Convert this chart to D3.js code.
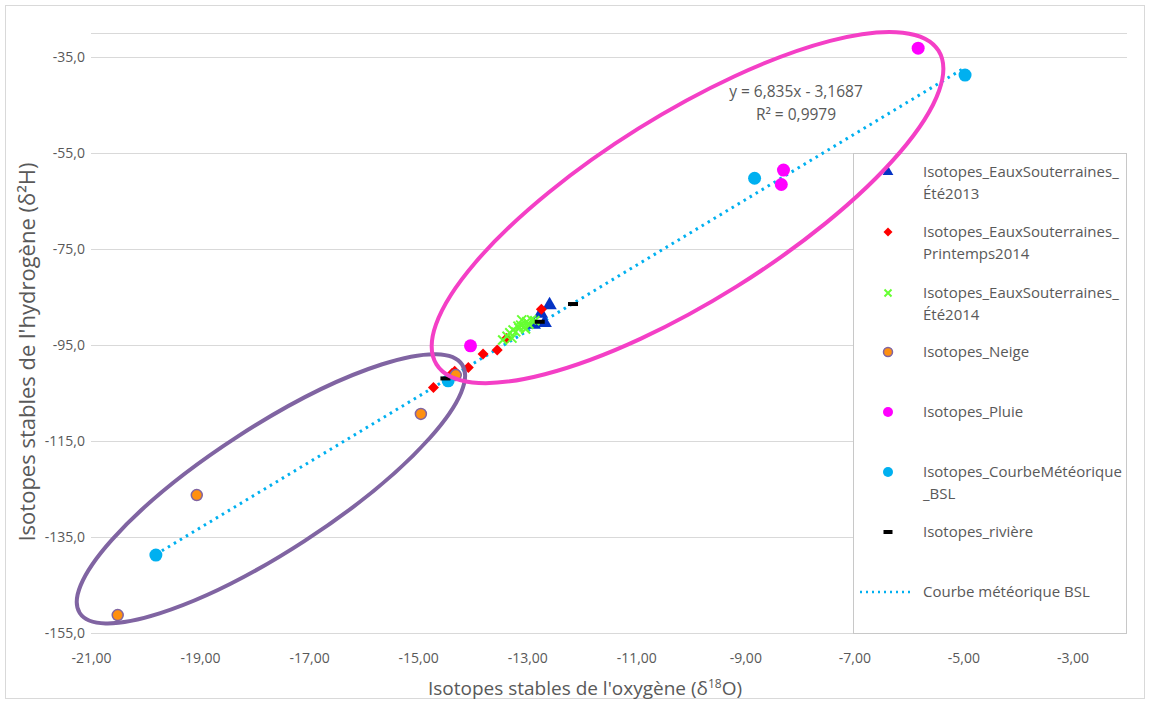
<!DOCTYPE html>
<html><head><meta charset="utf-8">
<script src="https://cdn.jsdelivr.net/npm/d3@7"></script>
<style>
body{margin:0;background:#fff}
text{font-family:"Open Sans",sans-serif;fill:#595959}
</style>
</head><body>
<svg id="chart" width="1151" height="705"></svg>
<script>
// ---------- data ----------
const xTicks = [-21, -19, -17, -15, -13, -11, -9, -7, -5, -3];
const yTicks = [-155, -135, -115, -95, -75, -55, -35];

const ete2013 = [[-12.59, -86.6], [-12.75, -88.4], [-12.68, -90.3], [-12.88, -90.7]];
const printemps2014 = [[-14.72, -103.8], [-14.38, -100.9], [-14.33, -100.4], [-14.08, -99.6],
  [-13.81, -96.8], [-13.55, -96.0], [-13.38, -93.6], [-12.74, -87.5]];
const ete2014 = [[-13.45, -93.9], [-13.37, -93.1], [-13.32, -92.4], [-13.26, -91.8], [-13.21, -92.2],
  [-13.15, -91.4], [-13.12, -90.8], [-13.06, -91.2], [-13.01, -90.1], [-12.97, -90.6], [-12.92, -89.7],
  [-13.28, -93.5], [-13.17, -91.0], [-13.03, -91.6], [-12.86, -89.9], [-13.10, -89.7]];
const neige = [[-20.51, -151.2], [-19.06, -126.2], [-14.95, -109.3], [-14.31, -101.2]];
const pluie = [[-5.83, -33.1], [-8.30, -58.5], [-8.34, -61.5], [-14.04, -95.1]];
const courbeBSL = [[-19.81, -138.7], [-14.45, -102.4], [-8.83, -60.2], [-4.97, -38.7]];
const riviere = [[-14.50, -101.9], [-12.77, -90.1], [-12.16, -86.4]];

const trendSlope = 6.835, trendIntercept = -3.1687, trendR2 = 0.9979;

const legendLabels = [
  ["Isotopes_EauxSouterraines_", "Été2013"],
  ["Isotopes_EauxSouterraines_", "Printemps2014"],
  ["Isotopes_EauxSouterraines_", "Été2014"],
  ["Isotopes_Neige"],
  ["Isotopes_Pluie"],
  ["Isotopes_CourbeMétéorique", "_BSL"],
  ["Isotopes_rivière"],
  ["Courbe météorique BSL"]
];

// annotation ellipses (centre in data units)
const ellipses = [
  {cx: -17.70, cy: -124.9, rx: 228, ry: 62, angle: -33, color: "#8064A2"},
  {cx: -10.06, cy: -66.3, rx: 296, ry: 93, angle: -32, color: "#F43FC6"}
];

// ---------- drawing ----------
const svg = d3.select("#chart");
const W = 1151, H = 705;
const x = d3.scaleLinear().domain([-21, -2]).range([91, 1127]);
const y = d3.scaleLinear().domain([-155, -30]).range([633.3, 33.3]);
const fmtX = v => d3.format(".2f")(v).replace(".", ",").replace("−", "-");
const fmtY = v => d3.format(".1f")(v).replace(".", ",").replace("−", "-");

// chart border
svg.append("rect").attr("x", 5.5).attr("y", 5.5).attr("width", W - 12).attr("height", H - 12)
  .attr("fill", "#fff").attr("stroke", "#d9d9d9");

// gridlines
const grid = svg.append("g");
grid.selectAll("line").data(yTicks.concat([y.domain()[1]])).join("line")
  .attr("x1", x.range()[0]).attr("x2", x.range()[1])
  .attr("y1", d => Math.round(y(d)) + 0.5).attr("y2", d => Math.round(y(d)) + 0.5)
  .attr("stroke", "#d9d9d9").attr("stroke-width", 1);

// axes labels via d3 axes
const yAxis = svg.append("g").attr("transform", `translate(${x.range()[0]},0)`)
  .call(d3.axisLeft(y).tickValues(yTicks).tickFormat(fmtY).tickSize(0).tickPadding(6));
const xAxis = svg.append("g").attr("transform", `translate(0,${y.range()[0]})`)
  .call(d3.axisBottom(x).tickValues(xTicks).tickFormat(fmtX).tickSize(0).tickPadding(20));
[xAxis, yAxis].forEach(a => {
  a.select(".domain").remove();
  a.selectAll("text").style("font-family", '"Open Sans",sans-serif').style("font-size", "14px").attr("fill", "#595959");
});

// axis titles
const yt = svg.append("text").attr("transform", "translate(35,352) rotate(-90)")
  .attr("text-anchor", "middle").style("font-size", "22px");
yt.text("Isotopes stables de l'hydrogène (δ²H)");
const xt = svg.append("text").attr("x", 585).attr("y", 695).attr("text-anchor", "middle").style("font-size", "19px");
xt.append("tspan").text("Isotopes stables de l'oxygène  (δ");
xt.append("tspan").attr("dy", -7).style("font-size", "12px").text("18");
xt.append("tspan").attr("dy", 7).text("O)");

// trendline
const xs = d3.extent(courbeBSL, d => d[0]);
svg.append("line")
  .attr("x1", x(xs[0])).attr("y1", y(trendSlope * xs[0] + trendIntercept))
  .attr("x2", x(xs[1])).attr("y2", y(trendSlope * xs[1] + trendIntercept))
  .attr("stroke", "#00B0F0").attr("stroke-width", 3).attr("stroke-dasharray", "2.5,4.5");

// marker renderers
const markers = {
  tri: (g, s) => g.append("path").attr("d", d3.symbol(d3.symbolTriangle, s)).attr("fill", "#0533C4"),
  dia: (g, s) => g.append("path").attr("d", `M0,${-s}L${s},0L0,${s}L${-s},0Z`).attr("fill", "#FF0000"),
  cross: (g, s) => g.append("path").attr("d", `M${-s},${-s}L${s},${s}M${-s},${s}L${s},${-s}`)
    .attr("stroke", "#66FF33").attr("stroke-width", 2).attr("fill", "none"),
  neige: (g, s) => g.append("circle").attr("r", s).attr("fill", "#FF9010").attr("stroke", "#8064A2").attr("stroke-width", 1.5),
  pluie: (g, s) => g.append("circle").attr("r", s).attr("fill", "#FF00FF"),
  bsl: (g, s) => g.append("circle").attr("r", s).attr("fill", "#00B0F0"),
  riv: (g, s) => g.append("rect").attr("x", -s).attr("y", -2).attr("width", 2 * s).attr("height", 4).attr("fill", "#000")
};

const seriesList = [
  {data: ete2013, m: "tri", s: 90},
  {data: printemps2014, m: "dia", s: 5.5},
  {data: ete2014, m: "cross", s: 4.5},
  {data: neige, m: "neige", s: 5.5},
  {data: pluie, m: "pluie", s: 6.5},
  {data: courbeBSL, m: "bsl", s: 6.5},
  {data: riviere, m: "riv", s: 5}
];
seriesList.forEach(sr => {
  svg.append("g").selectAll("g").data(sr.data).join("g")
    .attr("transform", d => `translate(${x(d[0])},${y(d[1])})`)
    .each(function () { markers[sr.m](d3.select(this), sr.s); });
});

// legend
const lg = svg.append("g");
lg.append("rect").attr("x", 853.5).attr("y", 153.5).attr("width", 273).attr("height", 480)
  .attr("fill", "#fff").attr("stroke", "#c8c8c8");
const legendY = [172, 232, 293, 352, 412, 472, 532, 592];
const legendMarkers = [["tri", 50], ["dia", 4.5], ["cross", 3.5], ["neige", 4.5], ["pluie", 5], ["bsl", 5], ["riv", 4.5]];
legendLabels.forEach((lab, i) => {
  const g = lg.append("g").attr("transform", `translate(0,${legendY[i]})`);
  if (i < 7) {
    const mg = g.append("g").attr("transform", "translate(888,0)");
    markers[legendMarkers[i][0]](mg, legendMarkers[i][1]);
  } else {
    g.append("line").attr("x1", 860).attr("x2", 913).attr("y1", 0).attr("y2", 0)
      .attr("stroke", "#00B0F0").attr("stroke-width", 2.5).attr("stroke-dasharray", "2,4");
  }
  lab.forEach((t, j) => g.append("text").attr("x", 923).attr("y", j * 22 + 5).style("font-size", "15px").text(t));
});

// ellipses
ellipses.forEach(e => {
  svg.append("ellipse").attr("cx", 0).attr("cy", 0).attr("rx", e.rx).attr("ry", e.ry)
    .attr("transform", `translate(${x(e.cx)},${y(e.cy)}) rotate(${e.angle})`)
    .attr("fill", "none").attr("stroke", e.color).attr("stroke-width", 4);
});

// trend equation
const eq = svg.append("text").attr("text-anchor", "middle").style("font-size", "15.5px");
eq.append("tspan").attr("x", 796).attr("y", 97).text(`y = ${String(trendSlope).replace(".", ",")}x - ${String(-trendIntercept).replace(".", ",")}`);
eq.append("tspan").attr("x", 796).attr("y", 120).text(`R² = ${String(trendR2).replace(".", ",")}`);
</script>
</body></html>
